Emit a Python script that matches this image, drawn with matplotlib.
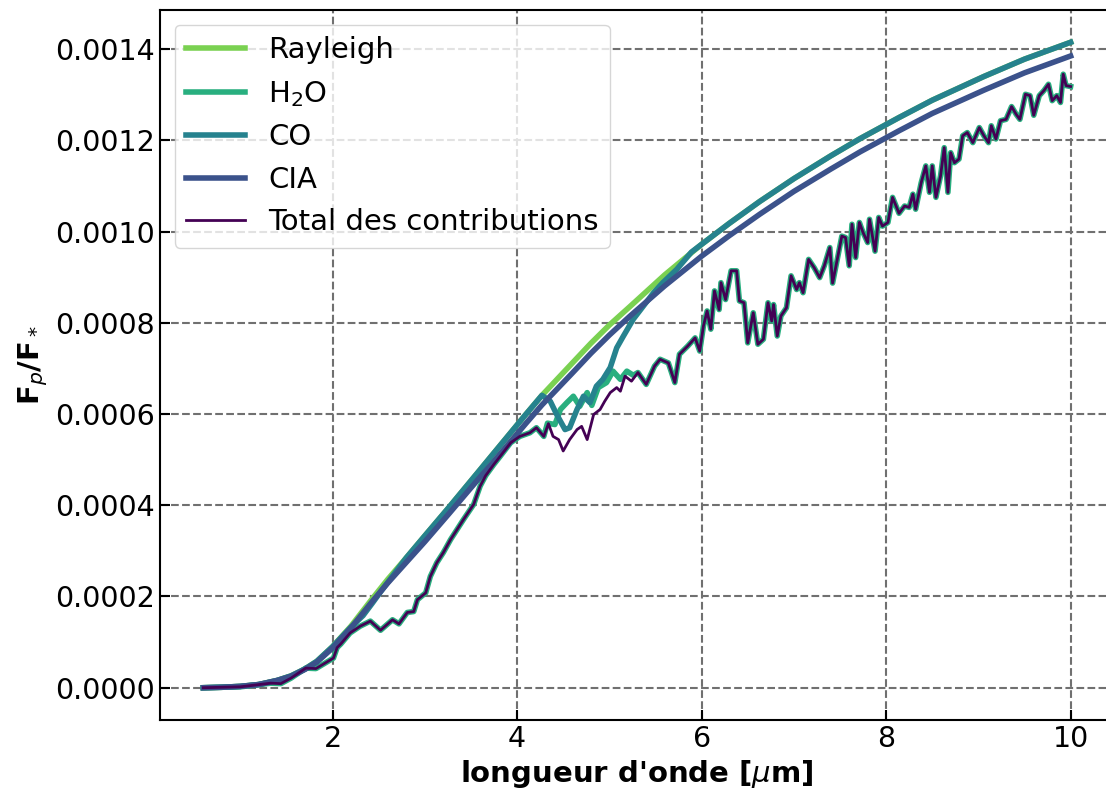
import numpy as np
import matplotlib
matplotlib.use("Agg")
import matplotlib.pyplot as plt
from matplotlib.ticker import FormatStrFormatter

# smooth contributions (values in 1e-3)
wl_smooth = [0.6, 0.8, 1.0, 1.2, 1.4, 1.55, 1.7, 1.83, 2.0, 2.2, 2.43, 2.6, 2.8, 3.0,
             3.26, 3.6, 3.71, 4.09, 4.27, 4.6, 4.8, 5.0, 5.22, 5.6, 6.0, 6.3, 6.63, 7.0,
             7.4, 7.72, 8.14, 8.5, 9.06, 9.5, 10.0]
rayleigh = [0.0, 0.001, 0.003, 0.007, 0.016, 0.026, 0.041, 0.058, 0.09, 0.135, 0.195,
            0.238, 0.285, 0.333, 0.395, 0.478, 0.505, 0.598, 0.641, 0.712, 0.755, 0.795,
            0.835, 0.905, 0.972, 1.018, 1.066, 1.116, 1.166, 1.204, 1.25, 1.288, 1.34,
            1.378, 1.415]
cia = [0.0, 0.001, 0.003, 0.007, 0.016, 0.025, 0.040, 0.056, 0.087, 0.131, 0.189,
       0.23, 0.275, 0.32, 0.381, 0.462, 0.487, 0.578, 0.62, 0.69, 0.733, 0.773, 0.814,
       0.881, 0.946, 0.991, 1.038, 1.088, 1.137, 1.175, 1.221, 1.259, 1.31, 1.348, 1.385]

# CO: same as rayleigh except the 2.3 and 4.6 micron bands
wl_co = [0.6, 0.8, 1.0, 1.2, 1.4, 1.55, 1.7, 1.83, 2.0, 2.2, 2.33, 2.43, 2.52, 2.8, 3.0,
         3.26, 3.6, 3.71, 4.09, 4.27, 4.36, 4.43, 4.52, 4.57, 4.65, 4.72, 4.79, 4.86,
         4.93, 5.01, 5.08, 5.15, 5.26, 5.37, 5.48, 5.58, 5.73, 5.89, 6.0, 6.3, 6.63, 7.0,
         7.4, 7.72, 8.14, 8.5, 9.06, 9.5, 10.0]
co = [0.0, 0.001, 0.003, 0.007, 0.016, 0.026, 0.041, 0.058, 0.09, 0.133, 0.158, 0.185,
      0.21, 0.285, 0.333, 0.395, 0.478, 0.505, 0.598, 0.641, 0.628, 0.599, 0.566, 0.57,
      0.61, 0.639, 0.625, 0.661, 0.676, 0.702, 0.745, 0.77, 0.808, 0.837, 0.866, 0.888,
      0.917, 0.955, 0.972, 1.018, 1.066, 1.116, 1.166, 1.204, 1.25, 1.288, 1.34, 1.378,
      1.415]

# total of contributions
wl_total = [0.6, 1.0, 1.33, 1.44, 1.55, 1.71, 1.82, 1.92, 2.01, 2.05, 2.09, 2.19, 2.3,
            2.41, 2.52, 2.65, 2.72, 2.81, 2.88, 2.92, 3.01, 3.06, 3.13, 3.2, 3.28, 3.35,
            3.42, 3.53, 3.6, 3.66, 3.75, 3.82, 3.93, 4.03, 4.14, 4.21, 4.29, 4.34, 4.39,
            4.45, 4.5, 4.57, 4.65, 4.7, 4.76, 4.83, 4.9, 4.95, 5.01, 5.08, 5.12, 5.17,
            5.24, 5.31, 5.4, 5.49, 5.55, 5.64, 5.71, 5.76, 5.85, 5.93, 5.98, 6.02, 6.06,
            6.1, 6.14, 6.19, 6.21, 6.26, 6.32, 6.38, 6.41, 6.46, 6.5, 6.56, 6.61, 6.67,
            6.72, 6.76, 6.78, 6.82, 6.86, 6.92, 6.97, 7.03, 7.06, 7.1, 7.16, 7.22, 7.28,
            7.33, 7.39, 7.42, 7.47, 7.52, 7.56, 7.6, 7.63, 7.67, 7.71, 7.75, 7.8, 7.82,
            7.88, 7.92, 7.96, 8.02, 8.07, 8.14, 8.2, 8.25, 8.29, 8.32, 8.38, 8.43, 8.47,
            8.5, 8.54, 8.59, 8.63, 8.67, 8.7, 8.74, 8.79, 8.83, 8.88, 8.94, 9.01, 9.06,
            9.11, 9.14, 9.19, 9.24, 9.3, 9.36, 9.41, 9.45, 9.51, 9.56, 9.6, 9.66, 9.71,
            9.76, 9.8, 9.85, 9.89, 9.92, 9.95, 10.0]
total = [0.0, 0.002, 0.01, 0.009, 0.021, 0.043, 0.042, 0.054, 0.065, 0.088, 0.096, 0.12,
         0.135, 0.146, 0.126, 0.149, 0.14, 0.165, 0.167, 0.193, 0.208, 0.244, 0.274,
         0.296, 0.325, 0.347, 0.369, 0.402, 0.442, 0.465, 0.49, 0.508, 0.537, 0.551,
         0.559, 0.57, 0.551, 0.579, 0.551, 0.544, 0.519, 0.544, 0.566, 0.573, 0.544,
         0.599, 0.61, 0.628, 0.647, 0.658, 0.65, 0.683, 0.672, 0.691, 0.665, 0.705,
         0.72, 0.712, 0.669, 0.731, 0.749, 0.767, 0.738, 0.793, 0.826, 0.786, 0.87,
         0.829, 0.888, 0.851, 0.914, 0.914, 0.848, 0.844, 0.756, 0.822, 0.753, 0.764,
         0.844, 0.804, 0.84, 0.771, 0.815, 0.833, 0.903, 0.873, 0.888, 0.866, 0.939,
         0.921, 0.899, 0.925, 0.965, 0.887, 0.939, 0.99, 0.987, 0.925, 1.016, 0.943,
         1.02, 0.998, 0.976, 1.027, 0.957, 1.031, 1.012, 1.02, 1.075, 1.04, 1.056,
         1.053, 1.082, 1.049, 1.107, 1.144, 1.086, 1.144, 1.075, 1.122, 1.184, 1.086,
         1.173, 1.151, 1.159, 1.21, 1.217, 1.195, 1.228, 1.21, 1.195, 1.232, 1.203,
         1.243, 1.246, 1.274, 1.257, 1.246, 1.301, 1.298, 1.255, 1.298, 1.309, 1.323,
         1.287, 1.298, 1.283, 1.345, 1.32, 1.318]

# H2O follows the total, except inside the CO band
wl_h2o_band = [4.33, 4.41, 4.47, 4.54, 4.61, 4.68, 4.76, 4.81, 4.88, 4.97, 5.04, 5.12, 5.19, 5.26]
h2o_band = [0.58, 0.577, 0.61, 0.625, 0.639, 0.617, 0.647, 0.619, 0.658, 0.669, 0.694,
            0.676, 0.694, 0.685]

colors = {
    "rayleigh": "#7ad151",
    "h2o": "#29af7f",
    "co": "#26828e",
    "cia": "#3b528b",
    "total": "#440154",
}


def build_h2o():
    wt = np.array(wl_total)
    tt = np.array(total)
    keep = (wt < wl_h2o_band[0]) | (wt > wl_h2o_band[-1])
    w = np.concatenate([wt[keep], wl_h2o_band])
    v = np.concatenate([tt[keep], h2o_band])
    order = np.argsort(w)
    return w[order], v[order]


def main():
    fig = plt.figure(figsize=(11.06, 7.96), dpi=100)
    ax = fig.add_axes([160 / 1106, 76 / 796, (1114 - 160) / 1106, (785 - 75) / 796])

    w_h2o, v_h2o = build_h2o()
    s = 1e-3
    ax.plot(wl_smooth, np.array(rayleigh) * s, color=colors["rayleigh"], lw=4, label="Rayleigh")
    ax.plot(w_h2o, v_h2o * s, color=colors["h2o"], lw=4, label="H$_2$O")
    ax.plot(wl_co, np.array(co) * s, color=colors["co"], lw=4, label="CO")
    ax.plot(wl_smooth, np.array(cia) * s, color=colors["cia"], lw=4, label="CIA")
    ax.plot(wl_total, np.array(total) * s, color=colors["total"], lw=2,
            label="Total des contributions")

    ax.grid(True, linestyle="--", color="#707070", lw=1.5)
    ax.set_axisbelow(True)
    ax.set_xticks([2, 4, 6, 8, 10])
    ax.set_yticks(np.arange(0, 0.00141, 0.0002))
    ax.yaxis.set_major_formatter(FormatStrFormatter("%.4f"))
    ax.tick_params(direction="in", labelsize=20.5, length=7, width=1.5)
    for sp in ax.spines.values():
        sp.set_linewidth(1.5)

    ax.set_xlabel(r"longueur d'onde [$\mu$m]", fontsize=21, fontweight="bold")
    ax.set_ylabel(r"F$_p$/F$_*$", fontsize=21, fontweight="bold")
    ax.legend(loc="upper left", fontsize=21)

    fig.savefig("out.png", dpi=100)


if __name__ == "__main__":
    main()
